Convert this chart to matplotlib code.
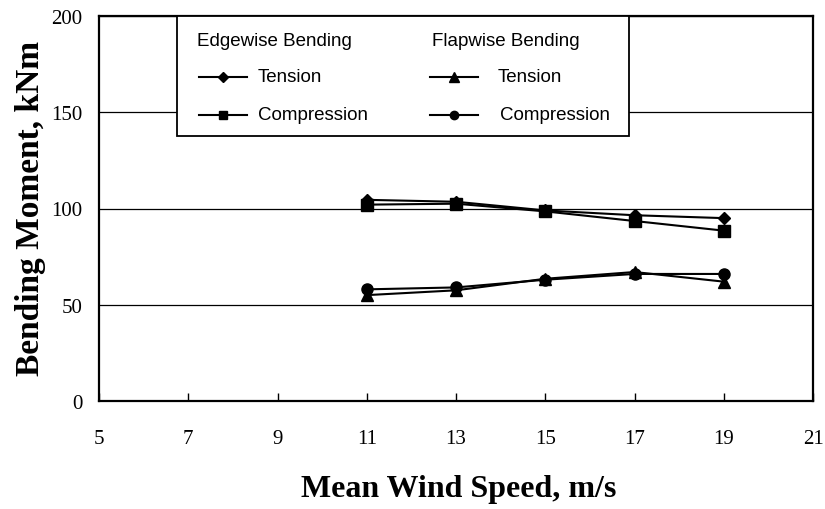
import matplotlib
matplotlib.use("Agg")
import matplotlib.pyplot as plt
from matplotlib.lines import Line2D
from matplotlib.patches import Rectangle

# Blade root bending moments versus mean wind speed
wind_speed = [11, 13, 15, 17, 19]
edge_tension = [104.5, 103.5, 99.0, 96.5, 95.0]
edge_compression = [102.0, 102.5, 98.5, 93.5, 88.5]
flap_tension = [55.0, 57.5, 63.5, 67.0, 62.0]
flap_compression = [58.0, 59.0, 63.0, 66.0, 66.0]

x_ticks = [5, 7, 9, 11, 13, 15, 17, 19, 21]
y_ticks = [0, 50, 100, 150, 200]

W, H = 825, 510
fig = plt.figure(figsize=(W / 100, H / 100), dpi=100)
fig.patch.set_facecolor("white")


def fx(x):
    return x / W


def fy(y):
    return 1 - y / H


ax = fig.add_axes([fx(99), fy(402), (813 - 99) / W, (402 - 17) / H])

serif = "Liberation Serif"
sans = "Liberation Sans"
lw = 1.5

ax.plot(wind_speed, edge_tension, color="black", lw=lw, marker="D", ms=6.5, zorder=3)
ax.plot(wind_speed, edge_compression, color="black", lw=lw, marker="s", ms=8, zorder=3)
ax.plot(wind_speed, flap_tension, color="black", lw=lw, marker="^", ms=8.5, zorder=3)
ax.plot(wind_speed, flap_compression, color="black", lw=lw, marker="o", ms=8, zorder=3)

ax.set_xlim(5, 21)
ax.set_ylim(0, 200)
ax.set_xticks(x_ticks)
ax.set_yticks(y_ticks)
ax.set_xticklabels([str(v) for v in x_ticks], family=serif, fontsize=15)
ax.set_yticklabels([str(v) for v in y_ticks], family=serif, fontsize=15)
ax.tick_params(axis="x", direction="in", length=6, width=1, pad=20)
ax.tick_params(axis="y", direction="in", length=0, width=1, pad=12)
ax.yaxis.grid(True, color="black", lw=0.9)
ax.set_axisbelow(True)
for s in ax.spines.values():
    s.set_linewidth(1.6)
    s.set_color("black")

fig.text(fx(459), fy(490), "Mean Wind Speed, m/s", family=serif, fontweight="bold",
         fontsize=23, ha="center", va="center")
fig.text(fx(31), fy(208), "Bending Moment, kNm", family=serif, fontweight="bold",
         fontsize=24, ha="center", va="center", rotation=90)

# Legend box with two groups
fig.add_artist(Rectangle((fx(177), fy(137)), (629 - 177) / W, (137 - 17) / H,
                         transform=fig.transFigure, facecolor="white",
                         edgecolor="black", lw=1.3, zorder=5))

leg_fs = 13.5
fig.text(fx(197), fy(42), "Edgewise Bending", family=sans, fontsize=leg_fs,
         va="center", ha="left", zorder=6)
fig.text(fx(432), fy(42), "Flapwise Bending", family=sans, fontsize=leg_fs,
         va="center", ha="left", zorder=6)

entries = [
    (199, 247, 78, "D", 5, "Tension", 258),
    (199, 247, 116, "s", 6, "Compression", 258),
    (430, 478, 78, "^", 6.5, "Tension", 498),
    (430, 478, 116, "o", 6, "Compression", 500),
]
for x0, x1, yy, mk, ms, label, tx in entries:
    fig.add_artist(Line2D([fx(x0), fx(x1)], [fy(yy), fy(yy)], transform=fig.transFigure,
                          color="black", lw=lw, zorder=6))
    fig.add_artist(Line2D([fx((x0 + x1) / 2)], [fy(yy)], transform=fig.transFigure,
                          color="black", marker=mk, ms=ms, lw=0, zorder=7))
    fig.text(fx(tx), fy(yy), label, family=sans, fontsize=leg_fs, va="center",
             ha="left", zorder=6)

fig.savefig("out.png", dpi=100, facecolor="white")
